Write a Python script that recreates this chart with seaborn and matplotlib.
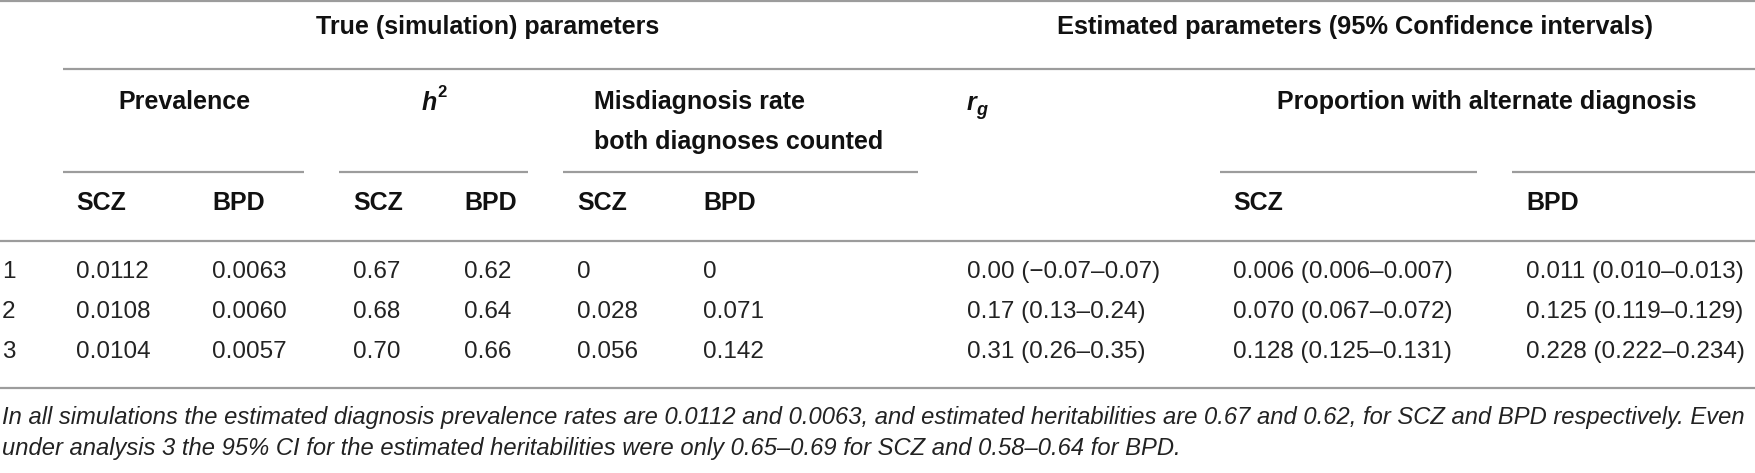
import numpy as np
import matplotlib
matplotlib.use("Agg")
import matplotlib.pyplot as plt
import seaborn as sns

# Table values
sims = ["1", "2", "3"]
prev_scz = ["0.0112", "0.0108", "0.0104"]
prev_bpd = ["0.0063", "0.0060", "0.0057"]
h2_scz = ["0.67", "0.68", "0.70"]
h2_bpd = ["0.62", "0.64", "0.66"]
mis_scz = ["0", "0.028", "0.056"]
mis_bpd = ["0", "0.071", "0.142"]
rg_est = [0.00, 0.17, 0.31]
rg_lo = [-0.07, 0.13, 0.26]
rg_hi = [0.07, 0.24, 0.35]
alt_scz = [0.006, 0.070, 0.128]
alt_scz_lo = [0.006, 0.067, 0.125]
alt_scz_hi = [0.007, 0.072, 0.131]
alt_bpd = [0.011, 0.125, 0.228]
alt_bpd_lo = [0.010, 0.119, 0.222]
alt_bpd_hi = [0.013, 0.129, 0.234]
footnote = ["In all simulations the estimated diagnosis prevalence rates are 0.0112 and 0.0063, "
            "and estimated heritabilities are 0.67 and 0.62, for SCZ and BPD respectively. Even",
            "under analysis 3 the 95% CI for the estimated heritabilities were only 0.65\u20130.69 "
            "for SCZ and 0.58\u20130.64 for BPD."]


def fmt(v, d):
    return f"{v:.{d}f}".replace("-", "\u2212")


def ci(est, lo, hi, d):
    return [f"{fmt(e, d)} ({fmt(a, d)}\u2013{fmt(b, d)})" for e, a, b in zip(est, lo, hi)]


columns = [prev_scz, prev_bpd, h2_scz, h2_bpd, mis_scz, mis_bpd,
           ci(rg_est, rg_lo, rg_hi, 2), ci(alt_scz, alt_scz_lo, alt_scz_hi, 3),
           ci(alt_bpd, alt_bpd_lo, alt_bpd_hi, 3)]
col_x = [76, 212, 353, 464, 577, 703, 967, 1233, 1526]
sub_labels = ["SCZ", "BPD"] * 3 + [None, "SCZ", "BPD"]
row_y = [272, 312, 352]

sns.set_theme(style="white")
plt.rcParams["font.family"] = ["Liberation Sans", "DejaVu Sans"]

fig = plt.figure(figsize=(17.55, 4.73), dpi=100)
ax = fig.add_axes([0, 0, 1, 1])
ax.set_xlim(0, 1755)
ax.set_ylim(473, 0)
ax.axis("off")

W = 1755
rule = dict(color="#9c9c9c", lw=1.6)
ax.hlines([1, 241, 388], 0, W, **rule)
ax.hlines(69, 63, W, **rule)
for a, b in [(63, 304), (339, 528), (563, 918), (1220, 1477), (1512, W)]:
    ax.hlines(172, a, b, **rule)

hdr = dict(fontsize=18, fontweight="bold", color="#111111", va="center")
ax.text(488, 27, "True (simulation) parameters", ha="center", **hdr)
ax.text(1355, 27, "Estimated parameters (95% Confidence intervals)", ha="center",
        **{**hdr, "fontsize": 18.3})
ax.text(184, 102, "Prevalence", ha="center", **hdr)
ax.text(422, 110, "h", ha="left", fontsize=18, fontweight="bold", fontstyle="italic",
        color="#111111", va="baseline")
ax.text(437, 97, "2", ha="left", fontsize=12, fontweight="bold", color="#111111", va="baseline")
ax.text(594, 102, "Misdiagnosis rate", ha="left", **hdr)
ax.text(594, 142, "both diagnoses counted", ha="left", **hdr)
ax.text(967, 110, "r", ha="left", fontsize=18, fontweight="bold", fontstyle="italic",
        color="#111111", va="baseline")
ax.text(976, 115, "g", ha="left", fontsize=13, fontweight="bold", fontstyle="italic",
        color="#111111", va="baseline")
ax.text(1487, 102, "Proportion with alternate diagnosis", ha="center", **hdr)

for x, lab in zip(col_x, sub_labels):
    if lab:
        ax.text(x, 203, lab, ha="left", **hdr)

body = dict(fontsize=17.5, color="#222222", va="center", ha="left")
for i, y in enumerate(row_y):
    ax.text(2, y, sims[i], **body)
    for x, col in zip(col_x, columns):
        ax.text(x, y, col[i], **body)

foot = dict(fontsize=15, fontstyle="italic", color="#222222", va="center", ha="left")
f1 = ax.text(2, 417, footnote[0], **foot)
f2 = ax.text(2, 448, footnote[1], **foot)

# scale the footnote so the first line fills the width like the original
fig.canvas.draw()
r = fig.canvas.get_renderer()
w = f1.get_window_extent(r).width
size = 15 * 1748 / w
f1.set_fontsize(size)
f2.set_fontsize(size)

fig.savefig("out.png", dpi=100, facecolor="white")
